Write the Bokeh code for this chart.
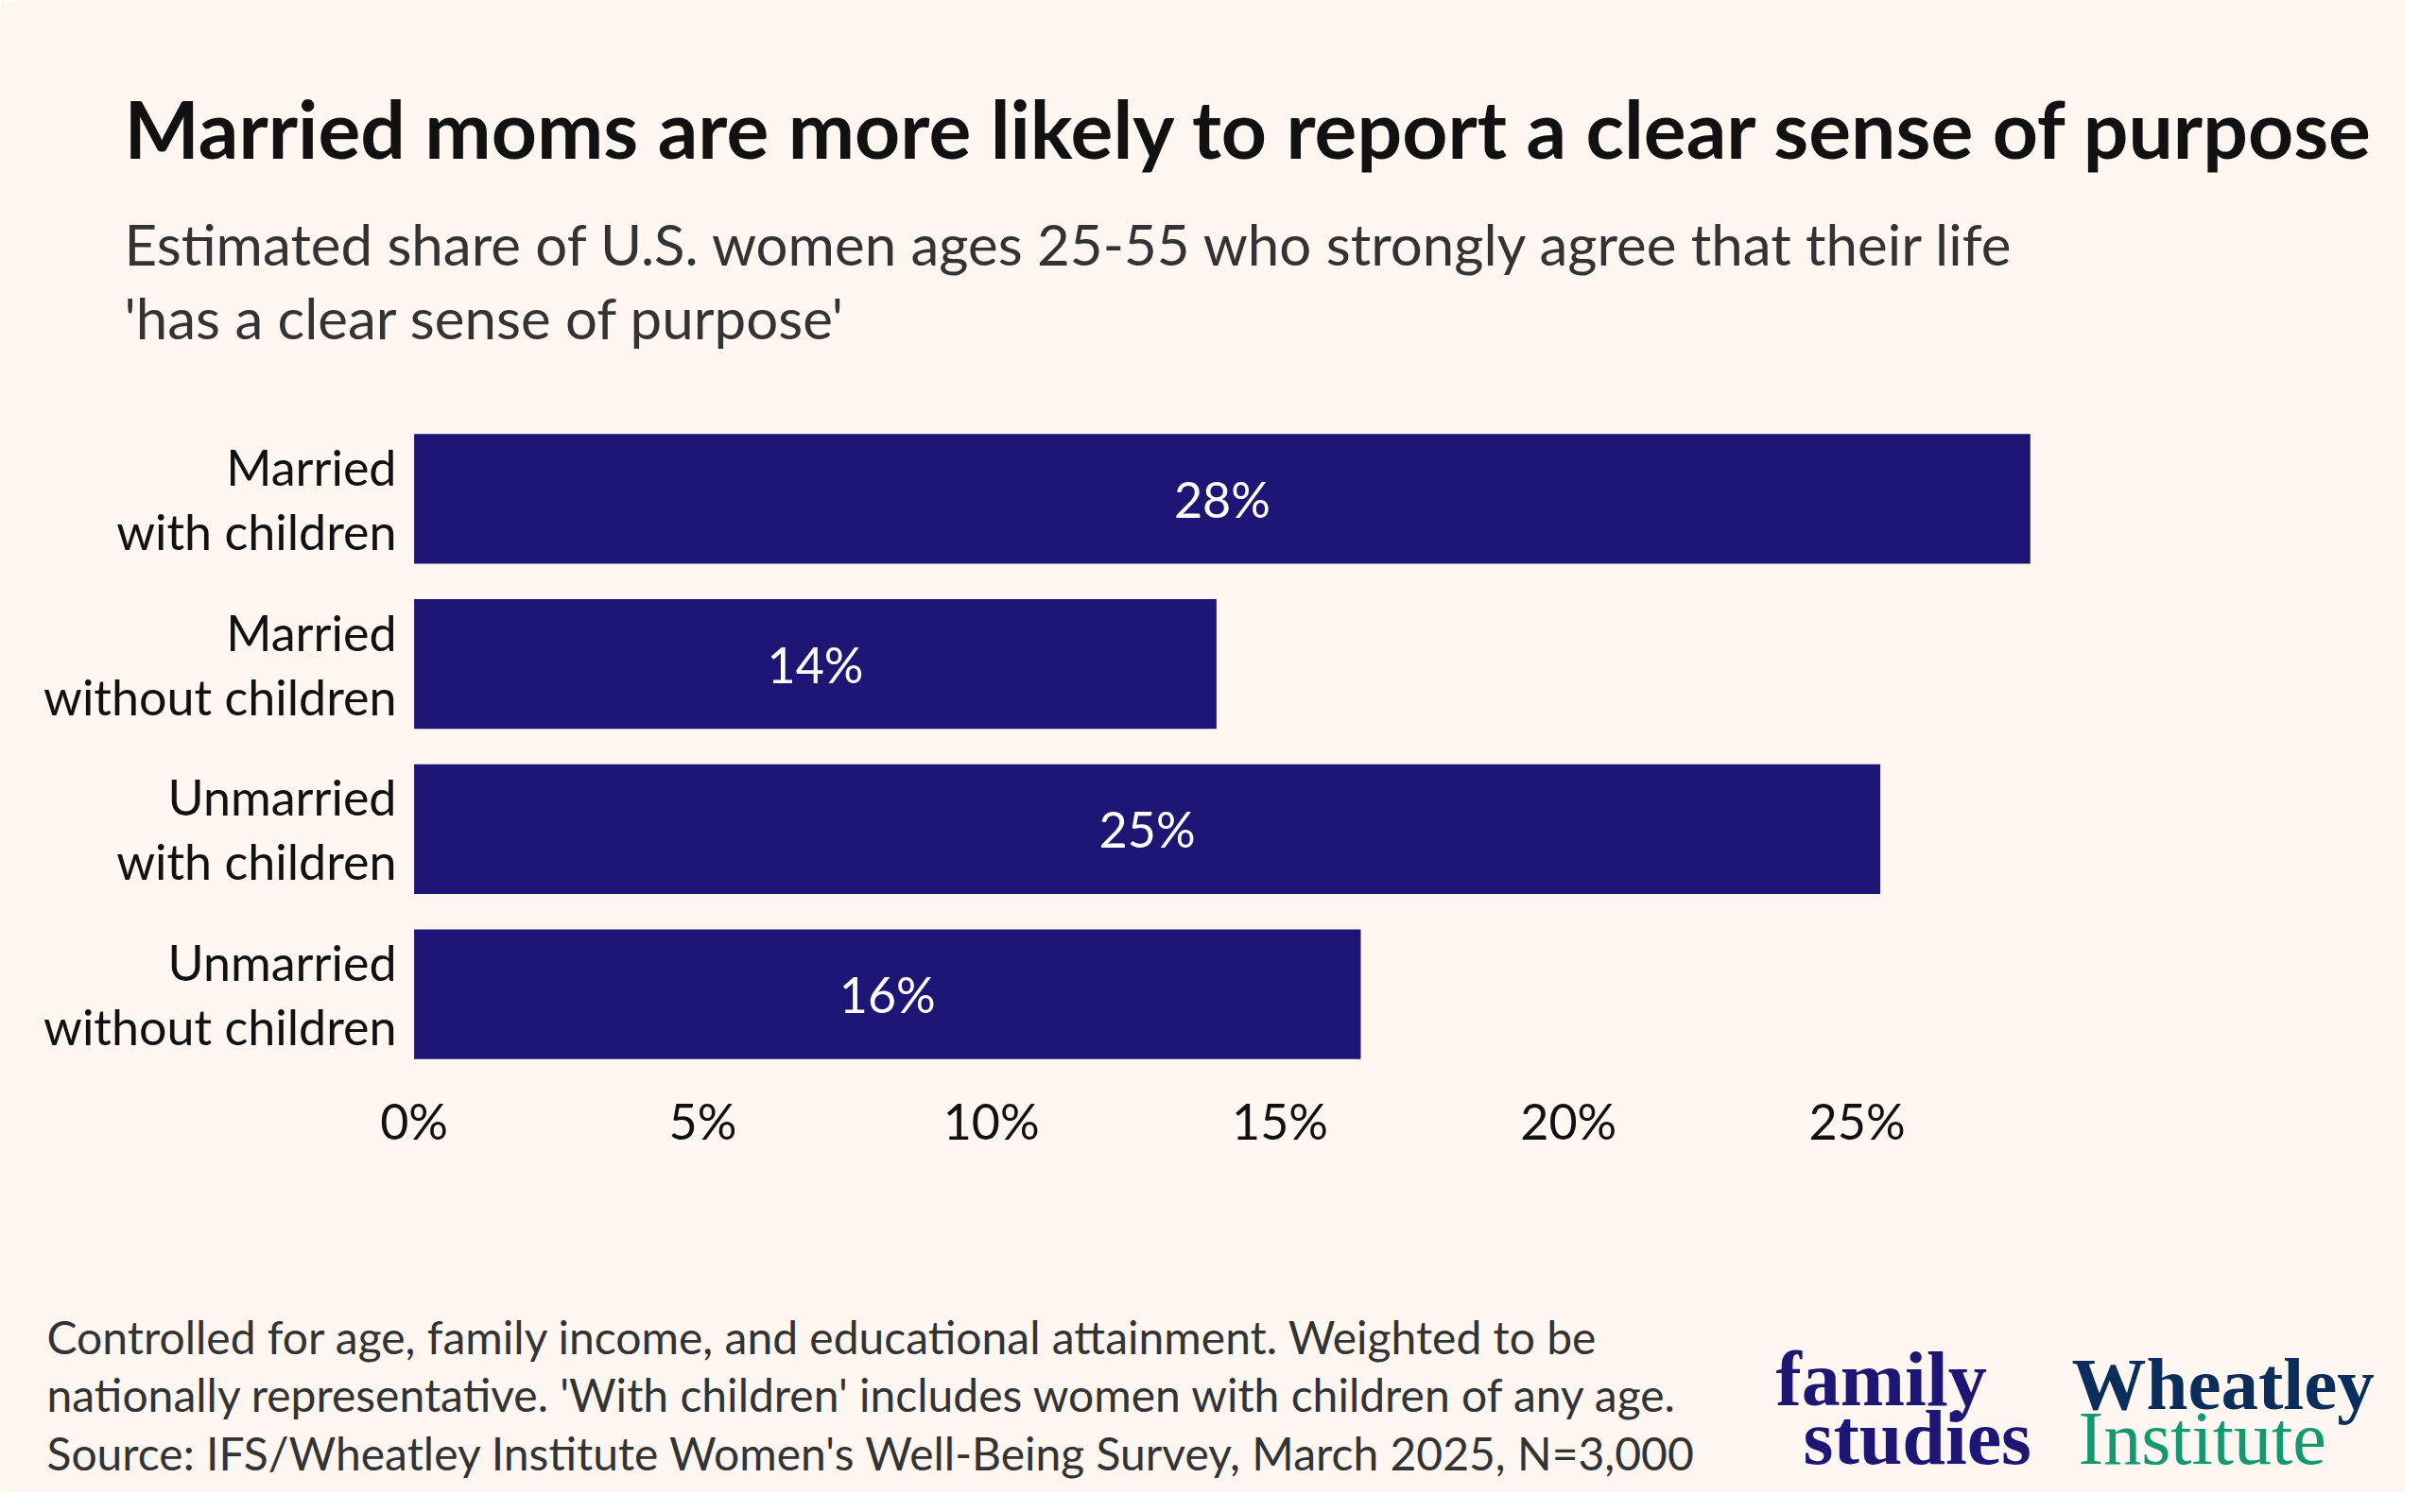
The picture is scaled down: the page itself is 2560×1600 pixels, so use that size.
from bokeh.plotting import figure
from bokeh.models import FactorRange, Range1d, ColumnDataSource
from bokeh.core.properties import value
from bokeh.embed import file_html
from bokeh.resources import INLINE

# ---- data ----
categories = ["Married\nwith children", "Married\nwithout children",
              "Unmarried\nwith children", "Unmarried\nwithout children"]
values = [28.0, 13.9, 25.4, 16.4]
value_labels = ["28%", "14%", "25%", "16%"]
tick_values = [0, 5, 10, 15, 20, 25]
tick_labels = ["0%", "5%", "10%", "15%", "20%", "25%"]

title_text = "Married moms are more likely to report a clear sense of purpose"
subtitle_lines = ["Estimated share of U.S. women ages 25-55 who strongly agree that their life",
                  "'has a clear sense of purpose'"]
note_lines = ["Controlled for age, family income, and educational attainment. Weighted to be",
              "nationally representative. 'With children' includes women with children of any age.",
              "Source: IFS/Wheatley Institute Women's Well-Being Survey, March 2025, N=3,000"]

# ---- style / layout ----
BG = "#FDF6F1"
BAR = "#1D1675"
W, H = 2544, 1579
ZERO_PX = 437.6          # pixel position of 0 %
PX_PER_PCT = 61.06       # pixels per percentage point
ROW_PX = 174.75          # pixels per category row
PAD = (H / ROW_PX - len(categories)) / 2
Y_END = len(categories) + PAD
FONT = value("Lato")
SERIF = value("Liberation Serif")


def X(px):
    """canvas pixel (from left) -> x data coordinate"""
    return (px - ZERO_PX) / PX_PER_PCT


def Y(py):
    """canvas pixel (from top) -> synthetic categorical y coordinate"""
    return Y_END - py / ROW_PX


p = figure(width=W, height=H,
           x_range=Range1d(X(0), X(W)),
           y_range=FactorRange(*reversed(categories), range_padding=PAD,
                               range_padding_units="absolute"),
           x_axis_location=None, y_axis_location=None,
           output_backend="svg", toolbar_location=None, min_border=0)
p.background_fill_color = BG
p.border_fill_color = BG
p.outline_line_color = None
p.grid.visible = False

src = ColumnDataSource(dict(cat=categories, val=values, lab=value_labels,
                            mid=[v / 2 for v in values]))

# bars
p.hbar(y="cat", right="val", left=0, height=0.785, source=src, color=BAR, line_color=None)
# value labels
p.text(x="mid", y="cat", text="lab", source=src, text_font=FONT,
       text_font_size="52px", text_color="white", text_align="center",
       text_baseline="middle")
# category labels (left of the bars)
p.text(x=[X(419)] * len(categories), y=categories, text=categories,
       text_font=FONT, text_font_size="52px", text_color="#111111",
       text_align="right", text_baseline="middle", text_line_height=1.1)
# x tick labels
p.text(x=tick_values, y=[Y(1185)] * len(tick_values), text=tick_labels,
       text_font=FONT, text_font_size="52px", text_color="#111111",
       text_align="center", text_baseline="alphabetic")


def txt(s, x, y, size, color, font=FONT, style="normal"):
    p.text(x=[X(x)], y=[Y(y)], text=[s],
           text_font=font, text_font_size=size, text_font_style=style,
           text_color=color, text_align="left", text_baseline="alphabetic")


# title / subtitle
txt(title_text, 131, 135, "84px", "#111111", style="bold")
txt(subtitle_lines[0], 131, 257, "60px", "#333333")
txt(subtitle_lines[1], 131, 335, "60px", "#333333")
# notes
for line, y in zip(note_lines, [1414, 1475, 1537]):
    txt(line, 49, y, "48px", "#333333")
# logos
txt("family", 1878, 1459, "82px", BAR, font=SERIF, style="bold")
txt("studies", 1907, 1521, "82px", BAR, font=SERIF, style="bold")
txt("Wheatley", 2191, 1464, "79px", "#0B2D5B", font=SERIF, style="bold")
txt("Institute", 2198, 1521, "80px", "#13996F", font=SERIF)

open("out.html", "w").write(file_html(p, INLINE))
